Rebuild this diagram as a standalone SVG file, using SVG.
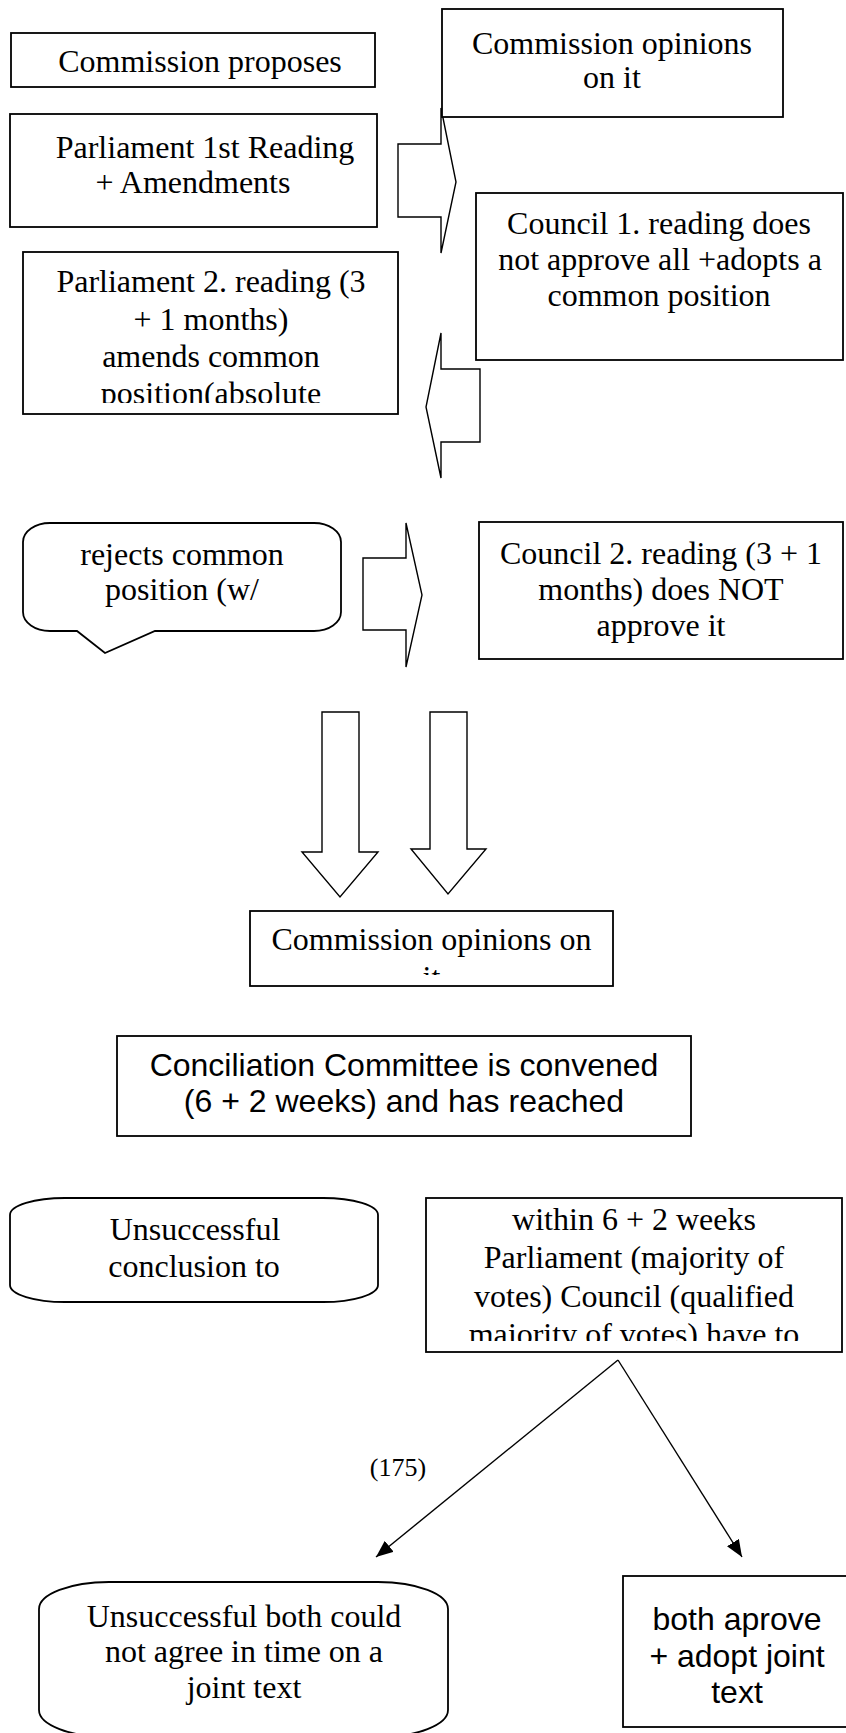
<svg xmlns="http://www.w3.org/2000/svg" width="846" height="1733" viewBox="0 0 846 1733">
  <style>
    .box { fill: #fff; stroke: #000; stroke-width: 1.8; }
    .blk { fill: #fff; stroke: #000; stroke-width: 1.4; stroke-linejoin: miter; }
    .edge { fill: none; stroke: #000; stroke-width: 1.4; }
    .serif { font-family: "Liberation Serif", "Times New Roman", serif; font-size: 32px; fill: #000; text-anchor: middle; }
    .sans { font-family: "Liberation Sans", Arial, sans-serif; font-size: 32px; fill: #000; text-anchor: middle; }
    .small { font-family: "Liberation Serif", "Times New Roman", serif; font-size: 26px; fill: #000; text-anchor: middle; }
  </style>
  <defs>
    <marker id="head" markerUnits="userSpaceOnUse" markerWidth="18" markerHeight="14" refX="17" refY="7" orient="auto">
      <path d="M0,0 L17,7 L0,14 Z" fill="#000"/>
    </marker>
    <clipPath id="clipE"><rect x="23" y="252" width="375" height="151"/></clipPath>
    <clipPath id="clipH"><rect x="250" y="911" width="363" height="64"/></clipPath>
    <clipPath id="clipK"><rect x="426" y="1198" width="416" height="143"/></clipPath>
  </defs>
  <rect width="846" height="1733" fill="#fff"/>

  <!-- block arrows and connectors -->
  <g id="connectors">
    <polygon class="blk" points="398,144 441,144 441,108 456,182 441,253 441,217 398,217"/>
    <polygon class="blk" points="480,369 441,369 441,333 426,407 441,478 441,442 480,442"/>
    <polygon class="blk" points="363,558 406,558 406,523 422,595 406,667 406,630 363,630"/>
    <polygon class="blk" points="322,712 359,712 359,852 378,852 340,897 302,852 322,852"/>
    <polygon class="blk" points="430,712 467,712 467,849 486,849 448,894 411,849 430,849"/>
    <line class="edge" x1="618" y1="1360" x2="376" y2="1557" marker-end="url(#head)"/>
    <line class="edge" x1="618" y1="1360" x2="742" y2="1557" marker-end="url(#head)"/>
    <text class="small" x="398" y="1476">(175)</text>
  </g>

  <g id="commission-proposes">
    <rect class="box" x="11" y="33" width="364" height="54"/>
    <text class="serif" x="200" y="72">Commission proposes</text>
  </g>

  <g id="commission-opinions-1">
    <rect class="box" x="442" y="9" width="341" height="108"/>
    <text class="serif" x="612" y="54">Commission opinions</text>
    <text class="serif" x="612" y="88">on it</text>
  </g>

  <g id="parliament-1st">
    <rect class="box" x="10" y="114" width="367" height="113"/>
    <text class="serif" x="205" y="158">Parliament 1st Reading</text>
    <text class="serif" x="193" y="193">+ Amendments</text>
  </g>

  <g id="council-1st">
    <rect class="box" x="476" y="193" width="367" height="167"/>
    <text class="serif" x="659" y="234">Council 1. reading does</text>
    <text class="serif" x="660" y="270">not approve all +adopts a</text>
    <text class="serif" x="659" y="306">common position</text>
  </g>

  <g id="parliament-2nd">
    <rect class="box" x="23" y="252" width="375" height="162"/>
    <g clip-path="url(#clipE)">
      <text class="serif" x="211" y="292">Parliament 2. reading (3</text>
      <text class="serif" x="211" y="330">+ 1 months)</text>
      <text class="serif" x="211" y="367">amends common</text>
      <text class="serif" x="211" y="404">position(absolute</text>
    </g>
  </g>

  <g id="rejects">
    <path class="box" d="M50,523 H314 A27,19 0 0 1 341,542 V612 A27,19 0 0 1 314,631 H155 L105,653 L77,631 H50 A27,19 0 0 1 23,612 V542 A27,19 0 0 1 50,523 Z"/>
    <text class="serif" x="182" y="565">rejects common</text>
    <text class="serif" x="182" y="600">position (w/</text>
  </g>

  <g id="council-2nd">
    <rect class="box" x="479" y="522" width="364" height="137"/>
    <text class="serif" x="661" y="564">Council 2. reading (3 + 1</text>
    <text class="serif" x="661" y="600">months) does NOT</text>
    <text class="serif" x="661" y="636">approve it</text>
  </g>

  <g id="commission-opinions-2">
    <rect class="box" x="250" y="911" width="363" height="75"/>
    <g clip-path="url(#clipH)">
      <text class="serif" x="431.5" y="950">Commission opinions on</text>
      <text class="serif" x="431.5" y="988">it</text>
    </g>
  </g>

  <g id="conciliation">
    <rect class="box" x="117" y="1036" width="574" height="100"/>
    <text class="sans" x="404" y="1076">Conciliation Committee is convened</text>
    <text class="sans" x="404" y="1112">(6 + 2 weeks) and has reached</text>
  </g>

  <g id="unsuccessful-conclusion">
    <rect class="box" x="10" y="1198" width="368" height="104" rx="55" ry="17"/>
    <text class="serif" x="195" y="1240">Unsuccessful</text>
    <text class="serif" x="194" y="1277">conclusion to</text>
  </g>

  <g id="within-weeks">
    <rect class="box" x="426" y="1198" width="416" height="154"/>
    <g clip-path="url(#clipK)">
      <text class="serif" x="634" y="1230">within 6 + 2 weeks</text>
      <text class="serif" x="634" y="1268">Parliament (majority of</text>
      <text class="serif" x="634" y="1307">votes) Council (qualified</text>
      <text class="serif" x="634" y="1345">majority of votes) have to</text>
    </g>
  </g>

  <g id="unsuccessful-both">
    <rect class="box" x="39" y="1582" width="409" height="155" rx="70" ry="27"/>
    <text class="serif" x="244" y="1627">Unsuccessful both could</text>
    <text class="serif" x="244" y="1662">not agree in time on a</text>
    <text class="serif" x="244" y="1698">joint text</text>
  </g>

  <g id="both-approve">
    <rect class="box" x="623" y="1576" width="228" height="151"/>
    <text class="sans" x="737" y="1630">both aprove</text>
    <text class="sans" x="737" y="1667">+ adopt joint</text>
    <text class="sans" x="737" y="1703">text</text>
  </g>
</svg>
